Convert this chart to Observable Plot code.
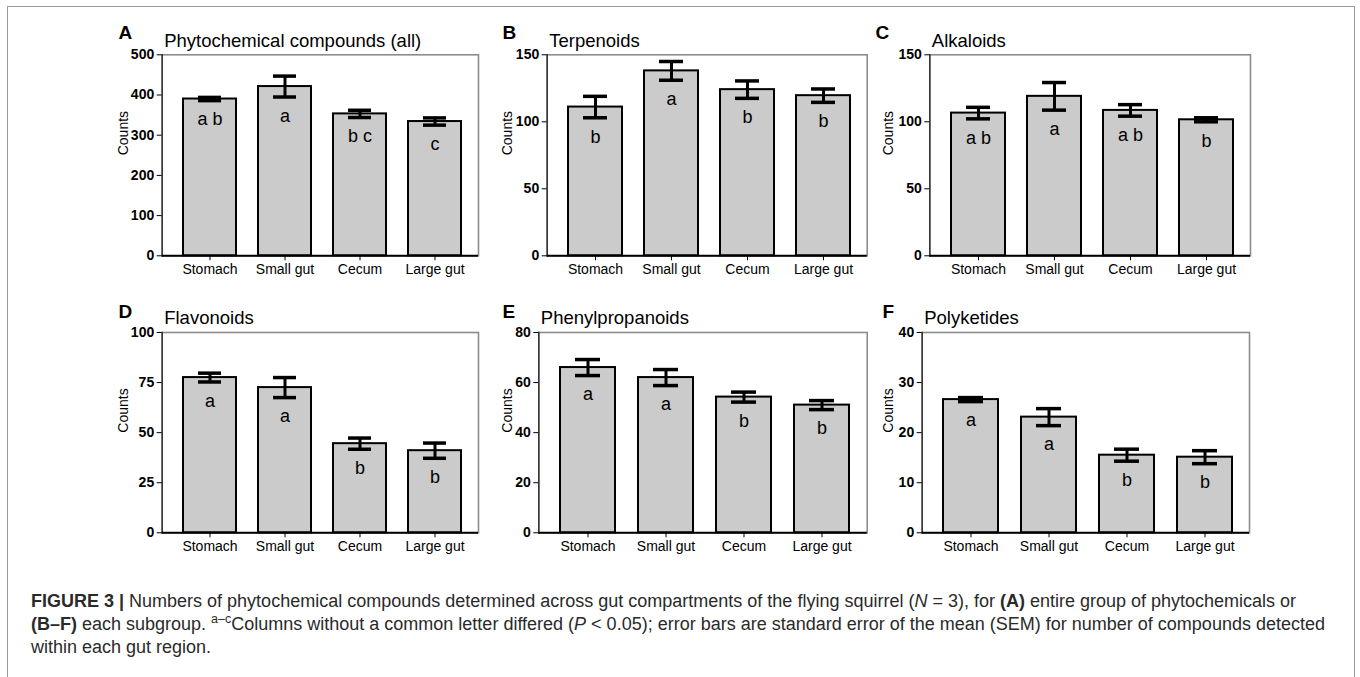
<!DOCTYPE html>
<html>
<head>
<meta charset="utf-8">
<script src="https://cdn.jsdelivr.net/npm/d3@7"></script>
<script src="https://cdn.jsdelivr.net/npm/@observablehq/plot@0.6"></script>
<style>
  html, body { margin: 0; padding: 0; background: #fff; }
  body { width: 1360px; height: 677px; position: relative; overflow: hidden; font-family: "Liberation Sans", Arial, Helvetica, sans-serif; }
  .border { position: absolute; left: 7px; top: 6px; width: 1348px; height: 720px; border: 1px solid #9a9a9a; border-bottom: none; box-sizing: border-box; }
  .cell { position: absolute; }
  .cell svg { overflow: visible; }
  .caption { position: absolute; left: 31px; top: 590px; font-size: 18px; line-height: 23px; color: #2a2a2a; white-space: nowrap; }
  .caption sup { font-size: 12.5px; line-height: 0; vertical-align: 7px; }
</style>
</head>
<body>
<div class="border"></div>
<div id="charts"></div>
<div class="caption"><b>FIGURE 3 |</b> Numbers of phytochemical compounds determined across gut compartments of the flying squirrel (<i>N</i> = 3), for <b>(A)</b> entire group of phytochemicals or<br><b>(B–F)</b> each subgroup. <sup>a–c</sup>Columns without a common letter differed (<i>P</i> &lt; 0.05); error bars are standard error of the mean (SEM) for number of compounds detected<br>within each gut region.</div>
<script>
// ---- data ----
const compartments = ["Stomach", "Small gut", "Cecum", "Large gut"];
const panelLetters = ["A", "B", "C", "D", "E", "F"];
const panelTitles = ["Phytochemical compounds (all)", "Terpenoids", "Alkaloids", "Flavonoids", "Phenylpropanoids", "Polyketides"];

const meansA = [390, 421, 353, 334];
const semA = [4, 26, 9, 9];
const lettersA = ["a b", "a", "b c", "c"];
const ticksA = [0, 100, 200, 300, 400, 500];

const meansB = [111, 138, 124, 119.5];
const semB = [8, 7, 6.5, 5];
const lettersB = ["b", "a", "b", "b"];
const ticksB = [0, 50, 100, 150];

const meansC = [106.5, 119, 108.5, 101.5];
const semC = [4.3, 10.3, 4.3, 1.5];
const lettersC = ["a b", "a", "a b", "b"];
const ticksC = [0, 50, 100, 150];

const meansD = [77.5, 72.5, 44.5, 41];
const semD = [2.2, 5, 2.8, 3.8];
const lettersD = ["a", "a", "b", "b"];
const ticksD = [0, 25, 50, 75, 100];

const meansE = [66, 62, 54.2, 51];
const semE = [3.2, 3.2, 2.0, 1.8];
const lettersE = ["a", "a", "b", "b"];
const ticksE = [0, 20, 40, 60, 80];

const meansF = [26.6, 23.1, 15.5, 15.1];
const semF = [0.4, 1.7, 1.2, 1.3];
const lettersF = ["a", "a", "b", "b"];
const ticksF = [0, 10, 20, 30, 40];

// ---- layout (page pixels) ----
const panels = [
  {means: meansA, sem: semA, sig: lettersA, ticks: ticksA, cell: [100, 10, 385, 280], plot: [161.7, 54.3, 478, 255.3], letterX: 118, countsX: 123, titleY: 40.5, letterY: 32.5},
  {means: meansB, sem: semB, sig: lettersB, ticks: ticksB, cell: [485, 10, 385, 280], plot: [546.7, 54.3, 866.7, 255.3], letterX: 502, countsX: 507, titleY: 40.5, letterY: 32.5},
  {means: meansC, sem: semC, sig: lettersC, ticks: ticksC, cell: [870, 10, 390, 280], plot: [929.3, 54.3, 1250, 255.3], letterX: 875, countsX: 888, titleY: 40.5, letterY: 32.5},
  {means: meansD, sem: semD, sig: lettersD, ticks: ticksD, cell: [100, 290, 385, 280], plot: [161.7, 332, 478, 532.3], letterX: 118, countsX: 123, titleY: 317.5, letterY: 311},
  {means: meansE, sem: semE, sig: lettersE, ticks: ticksE, cell: [485, 290, 385, 280], plot: [538.3, 332, 866.7, 532.3], letterX: 502, countsX: 507, titleY: 317.5, letterY: 311},
  {means: meansF, sem: semF, sig: lettersF, ticks: ticksF, cell: [870, 290, 390, 280], plot: [921.7, 332, 1249, 532.3], letterX: 882, countsX: 888, titleY: 317.5, letterY: 311}
];

const container = document.getElementById("charts");
panels.forEach((p, i) => {
  const [x0, y0, w, h] = p.cell;
  const [pl, pt, pr, pb] = p.plot;
  const data = compartments.map((c, j) => ({compartment: c, mean: p.means[j], sem: p.sem[j], sig: p.sig[j]}));
  const yMax = p.ticks[p.ticks.length - 1];
  const chart = Plot.plot({
    width: w,
    height: h,
    marginLeft: pl - x0,
    marginTop: pt - y0,
    marginRight: x0 + w - pr,
    marginBottom: y0 + h - pb,
    style: {fontFamily: "'Liberation Sans', Arial, Helvetica, sans-serif", fontSize: "14px", color: "#000", background: "transparent"},
    x: {type: "band", domain: compartments, paddingInner: 0.29, paddingOuter: 0.24, align: 0.55, label: null},
    y: {domain: [0, yMax], label: null},
    marks: [
      Plot.frame({stroke: "#8c8c8c", strokeWidth: 1.6}),
      Plot.barY(data, {x: "compartment", y: "mean", fill: "#cbcbcb", stroke: "#000", strokeWidth: 2}),
      Plot.ruleX(data, {x: "compartment", y1: d => d.mean - d.sem, y2: d => d.mean + d.sem, stroke: "#000", strokeWidth: 3}),
      Plot.tickY(data, {x: "compartment", y: d => d.mean + d.sem, stroke: "#000", strokeWidth: 3.5, insetLeft: 15, insetRight: 15}),
      Plot.tickY(data, {x: "compartment", y: d => d.mean - d.sem, stroke: "#000", strokeWidth: 3.5, insetLeft: 15, insetRight: 15}),
      Plot.text(data, {x: "compartment", y: d => d.mean - d.sem, text: "sig", dy: 19, fontSize: 18, fill: "#000", lineAnchor: "middle"}),
      Plot.frame({anchor: "left", stroke: "#333", strokeWidth: 1.5}),
      Plot.ruleY([0], {stroke: "#000", strokeWidth: 2}),
      Plot.axisY({ticks: p.ticks, tickSize: 5, tickPadding: 3, fontSize: 14, fontWeight: "bold", label: null, tickFormat: d => String(d), stroke: "#000", fill: "#000"}),
      Plot.axisX({tickSize: 5, tickPadding: 3, fontSize: 14, label: null, stroke: "#000", fill: "#000"}),
      Plot.text(["Counts"], {text: d => d, frameAnchor: "left", rotate: -90, dx: p.countsX - pl, fontSize: 14, fill: "#000", lineAnchor: "middle"}),
      Plot.text([panelTitles[i]], {text: d => d, frameAnchor: "top-left", dx: 2, dy: p.titleY - pt, textAnchor: "start", lineAnchor: "middle", fontSize: 18.5, fill: "#000"}),
      Plot.text([panelLetters[i]], {text: d => d, frameAnchor: "top-left", dx: p.letterX - pl, dy: p.letterY - pt, textAnchor: "start", lineAnchor: "middle", fontSize: 19, fontWeight: "bold", fill: "#000"})
    ]
  });
  const div = document.createElement("div");
  div.className = "cell";
  div.style.left = x0 + "px";
  div.style.top = y0 + "px";
  div.appendChild(chart);
  container.appendChild(div);
});
</script>
</body>
</html>
